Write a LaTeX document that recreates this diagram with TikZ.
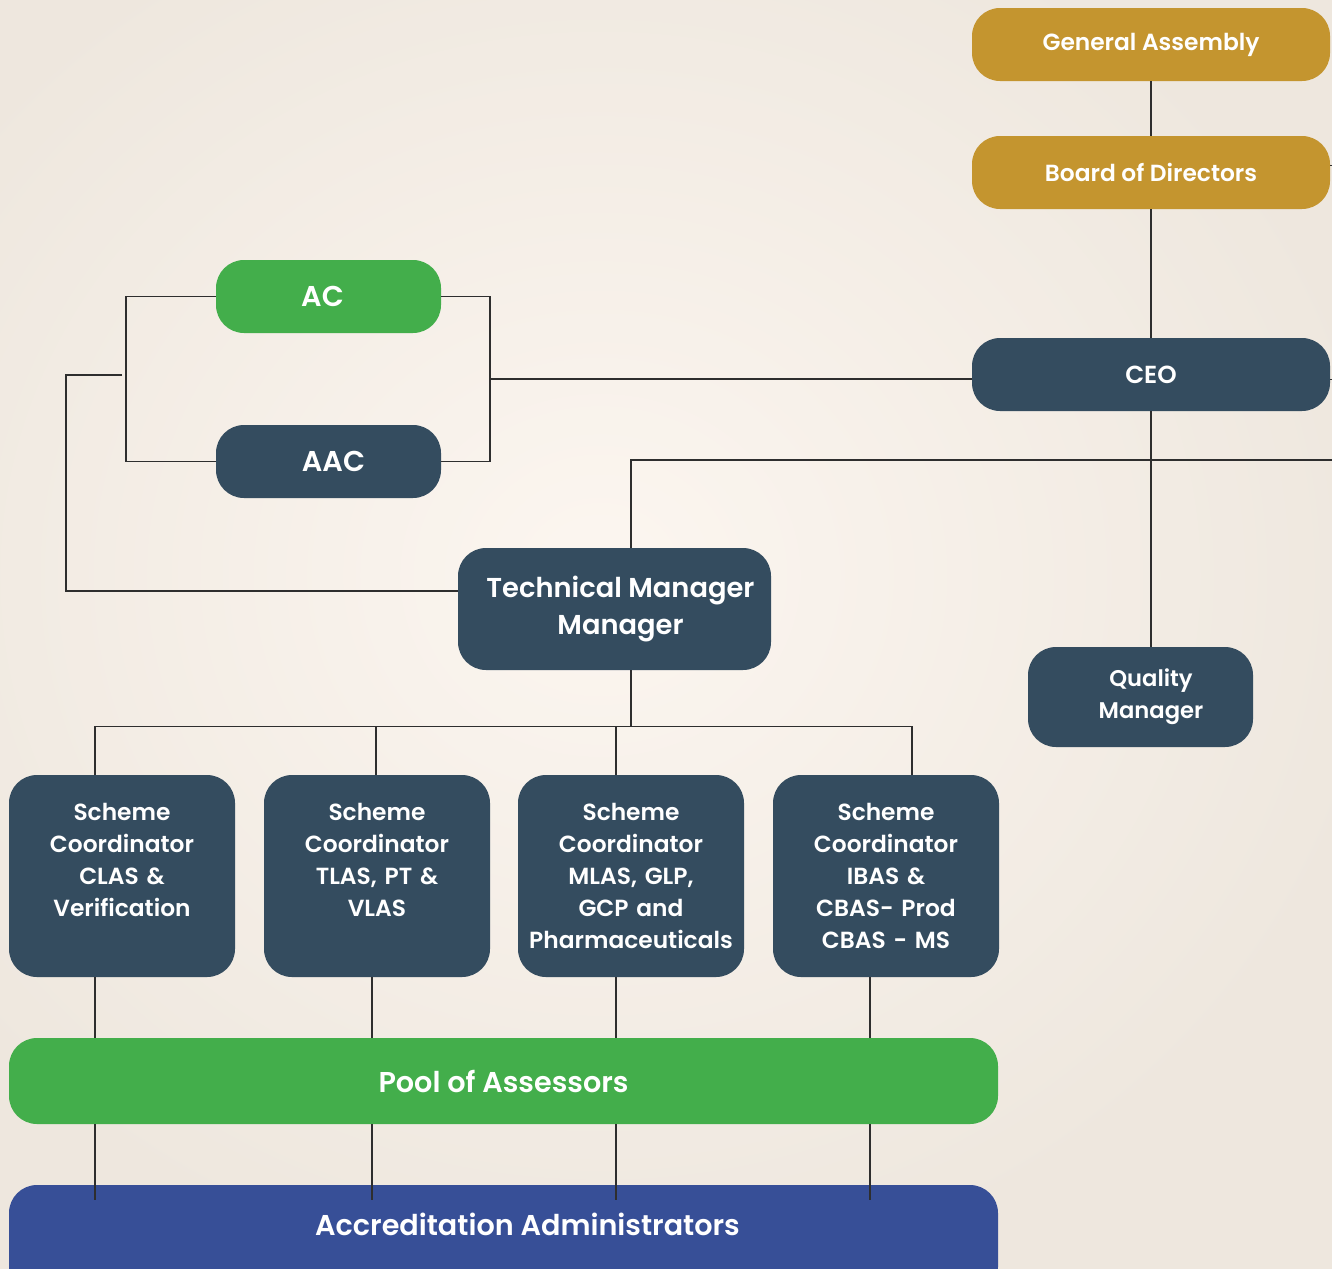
\documentclass[tikz,border=0pt]{standalone}
\usepackage{fontspec}
\setmainfont{Poppins}[BoldFont={Poppins SemiBold}]
\usetikzlibrary{calc}
\definecolor{gold}{HTML}{C4952F}
\definecolor{slate}{HTML}{344C5F}
\definecolor{grn}{HTML}{43AE4B}
\definecolor{navy}{HTML}{374F97}
\definecolor{bgout}{HTML}{EEE7DE}
\definecolor{bgin}{HTML}{FCF6F0}
\definecolor{ln}{HTML}{2E2E2E}
\tikzset{
  box/.style={rounded corners=21pt, inner sep=0pt, text=white, align=center},
  topbox/.style={box, fill=gold, minimum width=268.5pt, minimum height=54.75pt, font=\fontsize{17.5pt}{21pt}\bfseries},
  ceobox/.style={box, fill=slate, minimum width=268.5pt, minimum height=54.75pt, font=\fontsize{18.5pt}{21pt}\bfseries},
  combox/.style={box, minimum width=168.75pt, minimum height=54.75pt, font=\fontsize{21.5pt}{26pt}\bfseries},
  tmbox/.style={box, fill=slate, minimum width=234.75pt, minimum height=91.5pt, font=\fontsize{20.5pt}{28pt}\bfseries},
  qmbox/.style={box, fill=slate, minimum width=168.75pt, minimum height=75pt, font=\fontsize{17pt}{24pt}\bfseries},
  schbox/.style={box, fill=slate, minimum width=169.5pt, minimum height=151.5pt, text width=167pt, font=\fontsize{17.5pt}{24pt}\bfseries},
  widebox/.style={box, minimum width=741.75pt, font=\fontsize{21.5pt}{26pt}\bfseries},
  conn/.style={draw=ln, line width=1.1pt},
}
\begin{document}
\begin{tikzpicture}[x=0.75pt, y=-0.75pt]
\useasboundingbox (0,0) rectangle (1332,1268);
\clip (0,0) rectangle (1332,1268);
\shade[inner color=bgin, outer color=bgout] (-200,-150) rectangle (1400,1300);

% nodes
\node[topbox] (ga) at (1151,44.5) {General Assembly};
\node[topbox] (bod) at (1151,172.5) {Board of Directors};
\node[ceobox] (ceo) at (1151,374.5) {CEO};
\node[combox, fill=grn] (ac) at (328.5,296.5) {AC\hspace*{9pt}};
\node[combox, fill=slate] (aac) at (328.5,461.5) {\hspace*{7.5pt}AAC};
\node[tmbox] (tm) at (614.5,609) {\hspace*{9pt}Technical Manager\\\hspace*{9pt}Manager};
\node[qmbox] (qm) at (1140.5,697) {\hspace*{15.75pt}Quality\\\hspace*{15.75pt}Manager};
\node[schbox] (s1) at (122,876) {Scheme\\Coordinator\\CLAS \&\\Verification\\\mbox{}};
\node[schbox] (s2) at (377,876) {Scheme\\Coordinator\\TLAS, PT \&\\VLAS\\\mbox{}};
\node[schbox] (s3) at (631,876) {Scheme\\Coordinator\\MLAS, GLP,\\GCP and\\Pharmaceuticals};
\node[schbox] (s4) at (886,876) {Scheme\\Coordinator\\IBAS \&\\CBAS- Prod\\CBAS - MS};
\node[widebox, fill=grn, minimum height=64.5pt] (pool) at (503.5,1081) {Pool of Assessors};
\node[widebox, fill=navy, anchor=base, text height=37.5pt, text depth=45pt] (adm) at (503.5,1235) {\hspace*{36pt}Accreditation Administrators};

% connectors
\draw[conn] (ga) -- (bod);
\draw[conn] (bod) -- (ceo);
\draw[conn] ($(bod.east)+(0,-7)$) -- ++(20,0);
\draw[conn] ($(ceo.east)+(0,5)$) -- ++(20,0);

\coordinate (rb) at (490,379);
\coordinate (lb) at (126,375);
\coordinate (lo) at (122,375);
\draw[conn] (ac.east) -- (rb |- ac.east) -- (rb |- aac.east) -- (aac.east);
\draw[conn] (rb) -- (rb -| ceo.west);
\draw[conn] (ac.west) -- (lb |- ac.west) -- (lb |- aac.west) -- (aac.west);
\draw[conn] (lo) -- ++(-56,0) |- ($(tm.west)+(0,-18)$);

\draw[conn] (ceo.south) -- (ceo.south |- qm.north);
\coordinate (tmtop) at ($(tm.north)+(16.5,0)$);
\coordinate (redge) at (1345,460);
\draw[conn] (tmtop) |- (redge);

\draw[conn] ($(tm.south)+(16.5,0)$) -- ++(0,56) coordinate (bus);
\draw[conn] ($(s1.north)+(-27,0)$) |- (bus);
\draw[conn] ($(s2.north)+(-1,0)$) |- (bus);
\draw[conn] ($(s3.north)+(-15,0)$) |- (bus);
\draw[conn] ($(s4.north)+(26,0)$) |- (bus);

\path ($(s1.south)+(-27,0)$) coordinate (d1);
\path ($(s2.south)+(-5,0)$) coordinate (d2);
\path ($(s3.south)+(-15,0)$) coordinate (d3);
\path ($(s4.south)+(-16,0)$) coordinate (d4);
\foreach \d in {d1,d2,d3,d4}{
  \draw[conn] (\d) -- (\d |- pool.north);
  \draw[conn] (\d |- pool.south) -- ++(0,76);
}
\end{tikzpicture}
\end{document}
